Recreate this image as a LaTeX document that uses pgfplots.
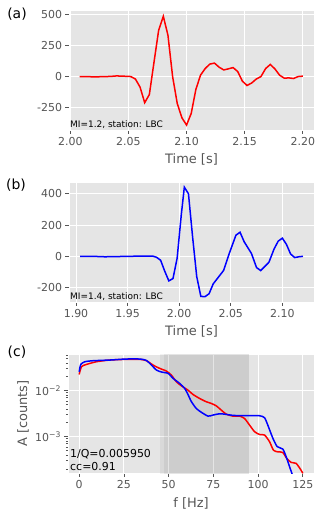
\documentclass[border=0pt]{standalone}
\usepackage{fontspec}
\setmainfont{DejaVu Sans}
\usepackage{pgfplots}
\pgfplotsset{compat=1.18}
\definecolor{bgc}{HTML}{E5E5E5}
\definecolor{tickc}{HTML}{555555}
\pgfplotsset{
  ggstyle/.style={
    scale only axis,
    axis background/.style={fill=bgc},
    axis line style={draw=white, line width=1bp},
    grid=major,
    major grid style={white, line width=0.9bp},
    tick align=outside,
    tick pos=left,
    major tick length=3.5bp,
    minor tick length=2bp,
    tick style={tickc, line width=0.8bp},
    tick label style={font=\fontsize{11}{13}\selectfont, text=tickc},
    /pgf/number format/assume math mode=true,
    every axis x label/.style={at={(axis description cs:0.5,0)}, anchor=center, yshift=-29bp, font=\fontsize{13}{15}\selectfont, text=tickc},
    every axis y label/.style={at={(axis description cs:0,0.5)}, anchor=center, xshift=-45bp, rotate=90, font=\fontsize{13}{15}\selectfont, text=tickc},
  }
}
\begin{document}
\begin{tikzpicture}
\useasboundingbox (0,0) rectangle (320bp,-516bp);
% (a)
\begin{axis}[ggstyle, at={(69bp,-130bp)}, anchor=south west, width=245bp, height=119bp,
  xmin=1.9989, xmax=2.2096, ymin=-430, ymax=527,
  xtick={2.00,2.05,2.10,2.15,2.20}, ytick={-250,0,250,500},
  xticklabel style={/pgf/number format/.cd, fixed, fixed zerofill, precision=2},
  xlabel={Time [s]}]
\addplot[red, line width=1.5bp] coordinates {
(2.008,0)(2.012,0)(2.016,-1)(2.020,-3)(2.024,-2)(2.028,-1)(2.032,0)(2.036,2)(2.040,5)(2.044,3)(2.048,2)(2.052,0)(2.056,-20)(2.060,-85)(2.064,-210)(2.068,-145)(2.072,115)(2.076,372)(2.080,485)(2.084,332)(2.088,0)(2.092,-217)(2.096,-332)(2.100,-390)(2.104,-297)(2.108,-104)(2.112,11)(2.116,64)(2.120,100)(2.124,108)(2.128,75)(2.132,53)(2.136,62)(2.140,72)(2.144,40)(2.148,-37)(2.152,-72)(2.156,-52)(2.160,-20)(2.164,0)(2.168,64)(2.172,97)(2.176,61)(2.180,11)(2.184,-13)(2.188,-11)(2.192,-16)(2.196,0)(2.200,3)};
\node[anchor=south west, inner sep=1bp, font=\fontsize{9}{10}\selectfont] at (rel axis cs:0,0) {MI=1.2, station: LBC};
\end{axis}
\node[font=\fontsize{14}{16}\selectfont] at (17bp,-14bp) {(a)};
% (b)
\begin{axis}[ggstyle, at={(69bp,-302bp)}, anchor=south west, width=245bp, height=120bp,
  xmin=1.8932, xmax=2.1307, ymin=-292, ymax=475,
  xtick={1.90,1.95,2.00,2.05,2.10}, ytick={-200,0,200,400},
  xticklabel style={/pgf/number format/.cd, fixed, fixed zerofill, precision=2},
  xlabel={Time [s]}]
\addplot[blue, line width=1.5bp] coordinates {
(1.904,0)(1.912,0)(1.920,-1)(1.928,-3)(1.936,-2)(1.944,-1)(1.952,0)(1.960,1)(1.968,1)(1.974,2)(1.978,-6)(1.982,-25)(1.986,-95)(1.990,-157)(1.994,-142)(1.998,-13)(2.002,262)(2.005,442)(2.009,400)(2.013,125)(2.017,-129)(2.021,-256)(2.025,-258)(2.029,-239)(2.033,-176)(2.043,-91)(2.048,8)(2.055,135)(2.059,154)(2.063,93)(2.070,19)(2.075,-72)(2.079,-91)(2.087,-38)(2.092,47)(2.096,97)(2.100,116)(2.104,76)(2.108,15)(2.112,-8)(2.116,-3)(2.120,0)};
\node[anchor=south west, inner sep=1bp, font=\fontsize{9}{10}\selectfont] at (rel axis cs:0,0) {MI=1.4, station: LBC};
\end{axis}
\node[font=\fontsize{14}{16}\selectfont] at (16bp,-185bp) {(b)};
% (c)
\begin{axis}[ggstyle, at={(68bp,-473bp)}, anchor=south west, width=246bp, height=119bp,
  ymode=log, xmin=-6.25, xmax=131.25, ymin=1.63e-4, ymax=0.0628,
  xtick={0,25,50,75,100,125}, ytick={0.01,0.001},
  yticklabels={10\textsuperscript{−2},10\textsuperscript{−3}},
  minor ytick={2e-4,3e-4,4e-4,5e-4,6e-4,7e-4,8e-4,9e-4,2e-3,3e-3,4e-3,5e-3,6e-3,7e-3,8e-3,9e-3,2e-2,3e-2,4e-2,5e-2,6e-2},
  xlabel={f [Hz]}, ylabel={A [counts]},
  every axis x label/.append style={yshift=-1bp}]
\fill[black, fill opacity=0.05] (axis cs:45,1e-5) rectangle (axis cs:95,1);
\fill[black, fill opacity=0.05] (axis cs:47.3,1e-5) rectangle (axis cs:95,1);
\addplot[red, line width=1.5bp, smooth, tension=0.4] coordinates {
(0,0.0226)(1.3,0.0333)(4.1,0.0373)(9.7,0.0427)(17,0.0464)(26,0.048)(34,0.048)(37.6,0.0449)(41.3,0.0361)(45,0.0306)(48.7,0.0268)(51.5,0.0219)(54.3,0.0157)(57.1,0.0128)(60.8,0.0103)(63.6,0.0083)(67.3,0.0068)(71,0.00577)(73.8,0.0053)(76.6,0.0047)(79.4,0.0038)(82.2,0.0031)(86,0.00281)(89.6,0.00281)(92.4,0.0025)(95.2,0.0018)(98,0.00129)(100.8,0.00112)(103.6,0.00109)(106.4,0.00078)(108.6,0.00051)(111,0.00047)(113.8,0.000456)(116,0.000338)(118.5,0.000277)(121.3,0.000263)(124,0.000188)(125,0.00016)};
\addplot[blue, line width=1.5bp, smooth, tension=0.4] coordinates {
(0,0.0259)(0.9,0.0373)(3.2,0.0427)(7.8,0.0449)(17,0.0464)(26,0.0488)(34,0.0488)(37.6,0.0455)(40.4,0.0361)(43.2,0.0281)(46,0.0255)(49.7,0.0238)(52.5,0.0185)(56.2,0.0144)(59,0.0112)(60.8,0.0083)(62.7,0.0058)(65.5,0.0041)(68.3,0.0034)(72,0.00281)(74.8,0.00296)(78.5,0.00316)(82.2,0.00306)(86,0.00291)(93.4,0.00286)(100.8,0.00286)(103.6,0.00259)(105.4,0.0018)(108.3,0.00092)(110.7,0.00061)(113.8,0.00054)(115.7,0.000367)(117.6,0.000223)(119.4,0.00014)};
\node[anchor=south west, align=left, inner sep=2bp, font=\fontsize{11}{13}\selectfont] at (rel axis cs:0,0) {1/Q=0.005950\\cc=0.91};
\end{axis}
\node[font=\fontsize{14}{16}\selectfont] at (17bp,-352bp) {(c)};
\end{tikzpicture}
\end{document}
